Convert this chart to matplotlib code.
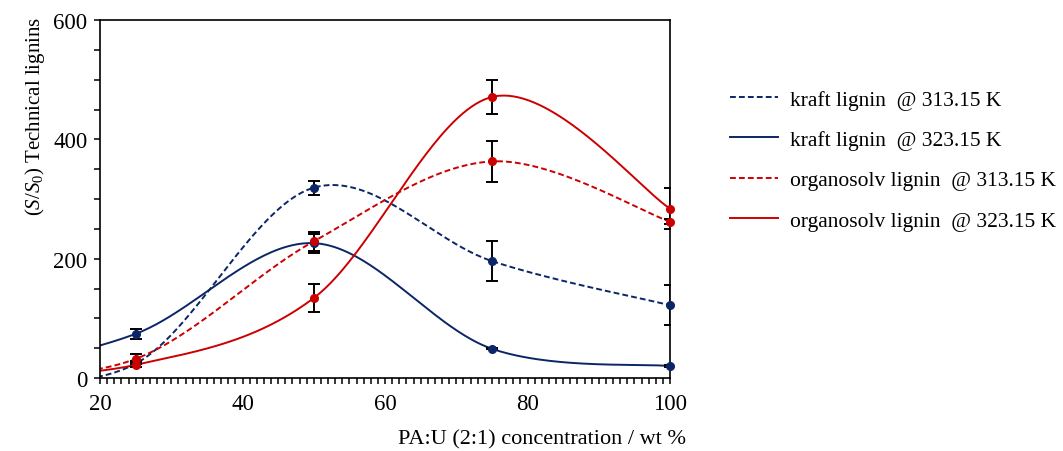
import numpy as np
import matplotlib
matplotlib.use('Agg')
import matplotlib.pyplot as plt
from matplotlib.lines import Line2D
from matplotlib.ticker import MultipleLocator

plt.rcParams['font.family'] = ['Liberation Serif', 'DejaVu Serif']
plt.rcParams['mathtext.fontset'] = 'custom'
plt.rcParams['mathtext.rm'] = 'Liberation Serif'
plt.rcParams['mathtext.it'] = 'Liberation Serif:italic'

# data; x=0 (S/S0 = 1) is the start of the smoothed curve, outside the axis range
x_curve = [0, 25, 50, 75, 100]
x_pts = [25, 50, 75, 100]

kraft_313 = [1, 24, 319, 196, 122]
kraft_323 = [1, 74, 226, 49, 20]
organo_313 = [1, 32, 229, 363, 262]
organo_323 = [1, 22, 134, 471, 284]

kraft_313_err = [5, 12, 34, 34]
kraft_323_err = [8, 16, 1, 1]
organo_313_err = [8, 16, 35, 4]
organo_323_err = [4, 24, 28, 34]

labels = ['kraft lignin  @ 313.15 K', 'kraft lignin  @ 323.15 K',
          'organosolv lignin  @ 313.15 K', 'organosolv lignin  @ 323.15 K']

navy = '#0b2566'
red = '#cc0000'


def smooth(xs, ys, n=80):
    # excel style smoothed line: cubic bezier, control points from neighbours
    p = np.column_stack([xs, ys]).astype(float)
    out = []
    for i in range(len(p) - 1):
        p0 = p[i - 1] if i > 0 else p[i]
        p1 = p[i]
        p2 = p[i + 1]
        p3 = p[i + 2] if i + 2 < len(p) else p[i + 1]
        c1 = p1 + (p2 - p0) / 6
        c2 = p2 - (p3 - p1) / 6
        t = np.linspace(0, 1, n)[:, None]
        b = (1 - t) ** 3 * p1 + 3 * (1 - t) ** 2 * t * c1 + 3 * (1 - t) * t ** 2 * c2 + t ** 3 * p2
        out.append(b)
    b = np.vstack(out)
    return b[:, 0], b[:, 1]


fig = plt.figure(figsize=(10.63, 4.52), dpi=100)
ax = fig.add_axes([100 / 1063, 1 - 379 / 452, 570 / 1063, 358 / 452])

series = [
    (kraft_313, kraft_313_err, navy, (0, (3, 1.6))),
    (kraft_323, kraft_323_err, navy, '-'),
    (organo_313, organo_313_err, red, (0, (3, 1.6))),
    (organo_323, organo_323_err, red, '-'),
]

handles = []
for (ys, err, col, ls), lab in zip(series, labels):
    sx, sy = smooth(x_curve, ys)
    ax.plot(sx, sy, color=col, linestyle=ls, lw=1.4, zorder=2)
    ax.errorbar(x_pts, ys[1:], yerr=err, fmt='none', ecolor='black',
                elinewidth=1.4, capsize=4, capthick=1.4, zorder=3)
    ax.plot(x_pts, ys[1:], 'o', color=col, ms=5.5, zorder=4, clip_on=False)
    handles.append(Line2D([], [], color=col, linestyle=ls, lw=1.4))

ax.set_xlim(20, 100)
ax.set_ylim(0, 600)
ax.xaxis.set_major_locator(MultipleLocator(20))
ax.xaxis.set_minor_locator(MultipleLocator(1))
ax.yaxis.set_major_locator(MultipleLocator(200))
ax.yaxis.set_minor_locator(MultipleLocator(50))
ax.tick_params(which='both', direction='out', length=4, width=1.1,
               labelsize=16.5, top=False, right=False)
ax.tick_params(axis='x', pad=7)
ax.tick_params(axis='y', pad=5)
for s in ax.spines.values():
    s.set_linewidth(1.2)

ax.set_xlabel('PA:U (2:1) concentration / wt %', fontsize=16)
ax.xaxis.set_label_coords(542 / 570 - 100 / 570, -(440 - 379) / 358)
ax.xaxis.label.set_va('center')
ax.set_ylabel(r'($\mathit{S/S}_{\mathit{0}}$) Technical lignins', fontsize=15)
ax.yaxis.set_label_coords((35 - 100) / 570, (379 - 116) / 358)
ax.yaxis.label.set_va('center')

fig.legend(handles, labels, loc='upper left', bbox_to_anchor=(721 / 1063, 1 - 82 / 452),
           frameon=False, fontsize=15.5, handlelength=2.23, handletextpad=0.56,
           labelspacing=0.94, borderaxespad=0)

fig.savefig('out.png', dpi=100)
